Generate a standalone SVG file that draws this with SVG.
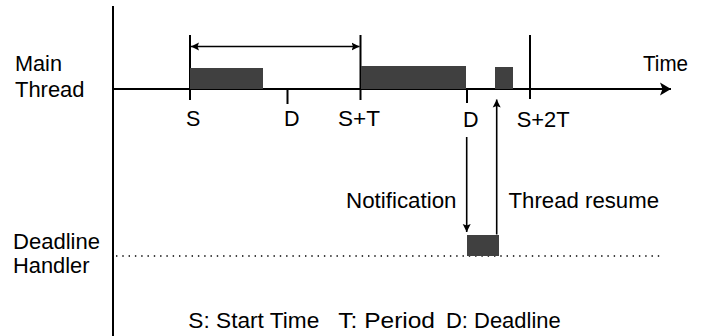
<svg xmlns="http://www.w3.org/2000/svg" width="704" height="336" viewBox="0 0 704 336">
  <style>
    .lbl { font-family: "Liberation Sans", Arial, Helvetica, sans-serif; font-size: 21.5px; fill: #000; }
    .axis { stroke: #000; stroke-width: 2; fill: none; }
    .tick { stroke: #000; stroke-width: 2; fill: none; }
    .bar { fill: #404040; }
    .conn { stroke: #000; stroke-width: 1.6; fill: none; }
    .dots { stroke: #000; stroke-width: 1.4; stroke-dasharray: 1.4 4.9; fill: none; }
  </style>
  <defs>
    <marker id="bigHead" markerWidth="12" markerHeight="14" refX="11" refY="7" orient="auto" markerUnits="userSpaceOnUse">
      <path d="M0,0.5 L11,7 L0,13.5 L2.5,7 Z" fill="#000"/>
    </marker>
    <marker id="smallHead" markerWidth="9" markerHeight="10" refX="8" refY="5" orient="auto-start-reverse" markerUnits="userSpaceOnUse">
      <path d="M0,1 L8,5 L0,9 L1.5,5 Z" fill="#000"/>
    </marker>
  </defs>

  <rect width="704" height="336" fill="#fff"/>

  <!-- axes -->
  <g id="axes">
    <line class="axis" x1="113" y1="6" x2="113" y2="336"/>
    <line class="axis" x1="113" y1="89" x2="671" y2="89" marker-end="url(#bigHead)"/>
    <line class="dots" x1="116" y1="256" x2="663" y2="256"/>
  </g>

  <!-- time marks on the main thread axis -->
  <g id="ticks">
    <line class="tick" x1="190" y1="35" x2="190" y2="100"/>
    <line class="tick" x1="287.5" y1="89" x2="287.5" y2="104"/>
    <line class="tick" x1="360.5" y1="35" x2="360.5" y2="100"/>
    <line class="tick" x1="467" y1="89" x2="467" y2="103"/>
    <line class="tick" x1="530" y1="35" x2="530" y2="99"/>
  </g>

  <!-- execution blocks -->
  <g id="main-run-1"><rect class="bar" x="190" y="68" width="73" height="21"/></g>
  <g id="main-run-2"><rect class="bar" x="361" y="66" width="105" height="23"/></g>
  <g id="main-run-3"><rect class="bar" x="495" y="67" width="18" height="22"/></g>
  <g id="handler-run"><rect class="bar" x="467" y="235" width="32" height="21"/></g>

  <!-- connectors -->
  <g id="connectors">
    <line class="conn" x1="191" y1="46.5" x2="359.5" y2="46.5" marker-start="url(#smallHead)" marker-end="url(#smallHead)"/>
    <line class="conn" x1="466.7" y1="137" x2="466.7" y2="232" marker-end="url(#smallHead)"/>
    <line class="conn" x1="496.7" y1="234.5" x2="496.7" y2="99.5" marker-end="url(#smallHead)"/>
  </g>

  <!-- row titles -->
  <g id="main-thread-label">
    <text class="lbl" x="15" y="71" textLength="47" lengthAdjust="spacingAndGlyphs">Main</text>
    <text class="lbl" x="15" y="97" textLength="69.5" lengthAdjust="spacingAndGlyphs">Thread</text>
  </g>
  <g id="handler-label">
    <text class="lbl" x="13" y="248.5" textLength="87" lengthAdjust="spacingAndGlyphs">Deadline</text>
    <text class="lbl" x="13" y="273" textLength="76.5" lengthAdjust="spacingAndGlyphs">Handler</text>
  </g>
  <g id="time-label">
    <text class="lbl" x="643" y="70.5" textLength="45" lengthAdjust="spacingAndGlyphs">Time</text>
  </g>

  <!-- tick labels -->
  <g id="tick-labels">
    <text class="lbl" x="186" y="126">S</text>
    <text class="lbl" x="284" y="126">D</text>
    <text class="lbl" x="338" y="126" textLength="42" lengthAdjust="spacingAndGlyphs">S+T</text>
    <text class="lbl" x="463" y="127">D</text>
    <text class="lbl" x="516.7" y="127" textLength="53" lengthAdjust="spacingAndGlyphs">S+2T</text>
  </g>

  <!-- event labels -->
  <g id="event-labels">
    <text class="lbl" x="346" y="208" textLength="110.5" lengthAdjust="spacingAndGlyphs">Notification</text>
    <text class="lbl" x="508.5" y="208" textLength="150.5" lengthAdjust="spacingAndGlyphs">Thread resume</text>
  </g>

  <!-- legend -->
  <g id="legend">
    <text class="lbl" x="188.3" y="327.5" textLength="131" lengthAdjust="spacingAndGlyphs">S: Start Time</text>
    <text class="lbl" x="338.3" y="327.5" textLength="96.7" lengthAdjust="spacingAndGlyphs">T: Period</text>
    <text class="lbl" x="446" y="327.5" textLength="114.7" lengthAdjust="spacingAndGlyphs">D: Deadline</text>
  </g>
</svg>
